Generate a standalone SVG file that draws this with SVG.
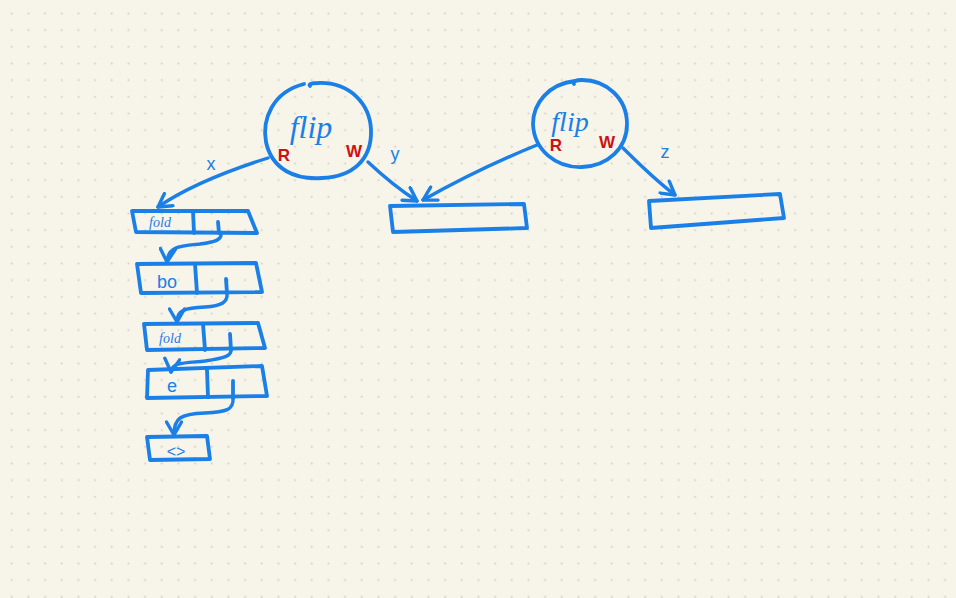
<svg xmlns="http://www.w3.org/2000/svg" width="956" height="598" viewBox="0 0 956 598">
<defs>
<pattern id="dots" patternUnits="userSpaceOnUse" x="3.3" y="5" width="16.667" height="16.667">
<rect x="7.6" y="7.6" width="1.7" height="1.7" fill="#cfcbc0"/>
</pattern>
<marker id="ah" markerUnits="userSpaceOnUse" viewBox="0 0 18 18" refX="16" refY="9" markerWidth="18" markerHeight="18" orient="auto">
<path d="M3,1.5 L16,9 L3,16.5" fill="none" stroke="#1a7fe6" stroke-width="3.4" stroke-linecap="round" stroke-linejoin="round"/>
</marker>
<style>
.s{fill:none;stroke:#1a7fe6;stroke-width:3.8;stroke-linecap:round;stroke-linejoin:round}
.c{fill:none;stroke:#1a7fe6;stroke-width:3.4;stroke-linecap:round;stroke-linejoin:round}
.t{fill:#1a7fe6;font-family:"Liberation Sans",Arial,sans-serif}
.h{fill:#1a7fe6;font-family:"Liberation Serif",serif;font-style:italic}
.r{fill:#cc1111;font-family:"Liberation Sans",Arial,sans-serif;font-weight:bold}
</style>
</defs>
<rect width="956" height="598" fill="#f7f4ea"/>
<rect width="956" height="598" fill="url(#dots)"/>

<g id="connectors">
<path class="c" d="M268,158 C230,170 190,185 158,207" marker-end="url(#ah)"/>
<path class="c" d="M368,162 C385,178 400,190 417,201" marker-end="url(#ah)"/>
<path class="c" d="M537,145 C495,162 455,182 423,200" marker-end="url(#ah)"/>
<path class="c" d="M623,148 C640,165 658,182 675,195" marker-end="url(#ah)"/>
<path class="c" d="M221,233 C222,240 215,242 200,244 C180,246 168,246 167,262" marker-end="url(#ah)"/>
<path class="c" d="M227,293 C228,302 222,306 205,307 C185,308 177,310 177,322" marker-end="url(#ah)"/>
<path class="c" d="M231,350 C231,356 225,358 205,361 C185,363 172,362 171,372" marker-end="url(#ah)"/>
<path class="c" d="M233,398 C234,410 226,412 205,413 C180,414 174,418 174,435" marker-end="url(#ah)"/>
<text class="t" x="211" y="170" font-size="18" text-anchor="middle">x</text>
<text class="t" x="395" y="160" font-size="18" text-anchor="middle">y</text>
<text class="t" x="665" y="158" font-size="18" text-anchor="middle">z</text>
</g>

<g id="flip1">
<path class="s" d="M304,84 C272,92 262,120 266,142 C272,170 296,180 322,178 C352,177 372,160 371,130 C370,104 350,82 318,83 C312,83 308,84 310,86"/>
<text class="h" x="311" y="138" font-size="32" text-anchor="middle">flip</text>
<text class="r" x="284" y="161" font-size="17" text-anchor="middle">R</text>
<text class="r" x="354" y="157" font-size="17" text-anchor="middle">W</text>
</g>

<g id="flip2">
<path class="s" d="M575,81 C548,84 533,104 533,124 C534,150 556,168 582,167 C608,166 627,148 627,124 C627,98 606,80 582,80 C575,80 572,82 574,84"/>
<text class="h" x="570" y="131" font-size="28" text-anchor="middle">flip</text>
<text class="r" x="556" y="151" font-size="17" text-anchor="middle">R</text>
<text class="r" x="607" y="148" font-size="17" text-anchor="middle">W</text>
</g>

<g id="cellY">
<path class="s" d="M390,206 L524,204 L527,228 L393,232 Z"/>
</g>

<g id="cellZ">
<path class="s" d="M649,201 L780,194 L784,218 L651,228 Z"/>
</g>

<g id="node1">
<path class="s" d="M132,211 L248,211 L257,233 L136,232 Z"/>
<path class="s" d="M193,211 L194,233"/>
<path class="s" d="M218,222 L219,233"/>
<text class="h" x="160" y="227" font-size="14" text-anchor="middle">fold</text>
</g>

<g id="node2">
<path class="s" d="M137,264 L256,263 L262,292 L141,293 Z"/>
<path class="s" d="M195,264 L197,293"/>
<path class="s" d="M226,279 L227,293"/>
<text class="t" x="167" y="288" font-size="18" text-anchor="middle">bo</text>
</g>

<g id="node3">
<path class="s" d="M144,324 L258,323 L265,348 L147,350 Z"/>
<path class="s" d="M203,324 L205,350"/>
<path class="s" d="M230,334 L231,350"/>
<text class="h" x="170" y="343" font-size="14" text-anchor="middle">fold</text>
</g>

<g id="node4">
<path class="s" d="M148,370 L262,366 L267,396 L147,398 Z"/>
<path class="s" d="M207,370 L208,397"/>
<path class="s" d="M233,381 L233,398"/>
<text class="t" x="172" y="392" font-size="18" text-anchor="middle">e</text>
</g>

<g id="node5">
<path class="s" d="M147,437 L207,436 L210,459 L150,460 Z"/>
<text class="t" x="176" y="457" font-size="16" text-anchor="middle">&lt;&gt;</text>
</g>
</svg>
